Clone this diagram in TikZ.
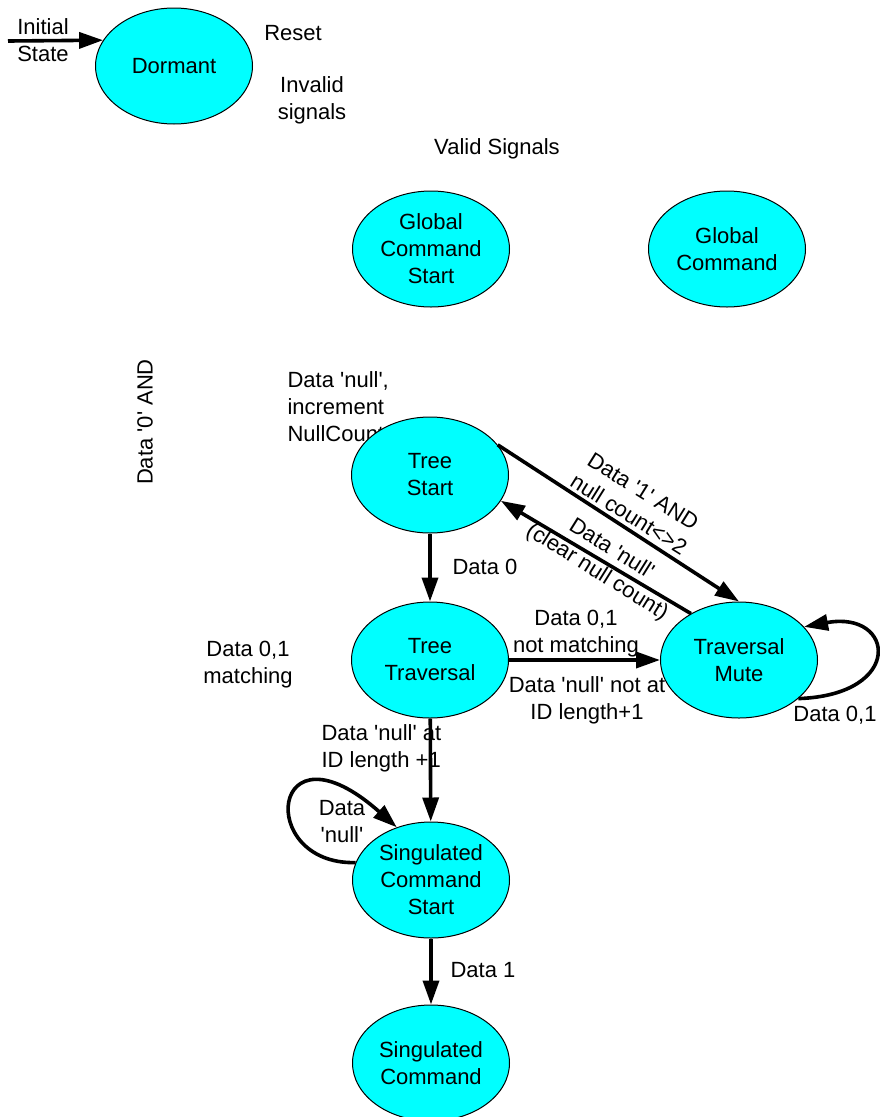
\documentclass[tikz,border=0pt]{standalone}
\usepackage{fontspec}
\setmainfont{Liberation Sans}[Ligatures=TeXOff]
\usetikzlibrary{shapes.geometric,arrows.meta}
\definecolor{statecyan}{RGB}{0,255,255}
\begin{document}
\begin{tikzpicture}[x=1pt,y=-1pt,
    every node/.style={font=\fontsize{22}{27}\selectfont, align=center},
    state/.style={ellipse, draw, line width=1pt, fill=statecyan, minimum width=157pt, minimum height=116pt, inner sep=0pt},
    trans/.style={line width=3.6pt, -{Triangle[length=24pt,width=16pt]}}]
    \useasboundingbox (0,0) rectangle (879,1117);
    % labels
    \node (lbinit) at (43,40) {Initial\\State};
    \node (lbreset) at (293,33) {Reset};
    \node (lbinvalid) at (312,100) {Invalid\\signals};
    \node (lbvalid) at (497,149) {Valid Signals};
    \node[rotate=90] (lbzeroand) at (145,422) {Data '0' AND};
    \node[anchor=west, align=left] (lbnull) at (284,407) {Data 'null',\\increment\\NullCount};
    \node (lbdata0) at (485,567) {Data 0};
    \node[rotate=-32] (lbone) at (636,503) {Data '1' AND\\null count<>2};
    \node[rotate=-32] (lbclear) at (604,561) {Data 'null'\\(clear null count)};
    \node (lbmatch) at (248,665) {Data 0,1\\matching};
    \node (lbnomatch) at (576,634) {Data 0,1\\not matching};
    \node (lbnotat) at (587,700) {Data 'null' not at\\ID length+1};
    \node (lbmute) at (835,715) {Data 0,1};
    \node[anchor=west, align=left] (lbat) at (318,748) {Data 'null' at\\ID length +1};
    \node (lbloop) at (342,822) {Data\\'null'};
    \node (lbdata1) at (483,970) {Data 1};
    % states
    \foreach \n/\x/\y/\t in {dormant/174/66/Dormant, gcstart/431/249/Global\\Command\\Start, gcmd/727/249/Global\\Command, treestart/430/475/Tree\\Start, traversal/430/660/Tree\\Traversal, mute/739/660/Traversal\\Mute, scstart/431/880/Singulated\\Command\\Start, scmd/431/1063/Singulated\\Command} { \node[state] (\n) at (\x,\y) {\t}; }
    % transitions
    \coordinate (init) at (8,41);
    \draw[trans] (init) -- (dormant.160);
    \draw[trans] (treestart.24) -- (mute.north);
    \draw[trans] (mute.136) -- (treestart.-20);
    \draw[trans] (treestart) -- (traversal);
    \draw[trans] (traversal) -- (mute);
    \draw[trans] (traversal) -- (scstart);
    \draw[trans] (scstart) -- (scmd);
    \draw[trans] (mute.-33) .. controls (905,695) and (895,610) .. (mute.27);
    \draw[trans] (scstart.167) .. controls (255,865) and (270,715) .. (scstart.123);
\end{tikzpicture}
\end{document}
